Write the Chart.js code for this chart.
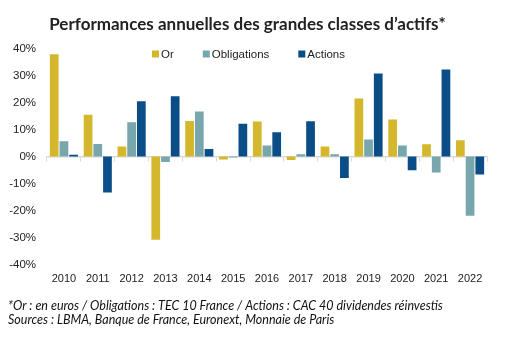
<!DOCTYPE html>
<html lang="fr">
<head>
    <meta charset="UTF-8">
    <title>Performances annuelles des grandes classes d'actifs</title>
    <script src="https://cdn.jsdelivr.net/npm/chart.js"></script>
    <style>
        html, body { margin: 0; padding: 0; background: #fff; }
        #wrap { width: 510px; height: 345px; }
    </style>
</head>
<body>
    <div id="wrap">
        <canvas id="perfChart"></canvas>
    </div>
    <script>
        // Données (en %)
        const years = ['2010', '2011', '2012', '2013', '2014', '2015', '2016',
                       '2017', '2018', '2019', '2020', '2021', '2022'];
        const orValues = [37.8, 15.5, 3.7, -30.7, 13.2, -1.1, 13.0, -1.3, 3.7, 21.5, 13.7, 4.6, 6.0];
        const obligationsValues = [5.7, 4.7, 12.7, -2.0, 16.7, -0.3, 4.1, 0.9, 0.9, 6.3, 4.1, -5.9, -21.9];
        const actionsValues = [0.7, -13.3, 20.5, 22.3, 2.8, 12.1, 9.0, 13.1, -7.9, 30.7, -5.0, 32.2, -6.6];
        const yTicks = [40, 30, 20, 10, 0, -10, -20, -30, -40];

        const footnote = [
            '*Or : en euros / Obligations : TEC 10 France / Actions : CAC 40 dividendes réinvestis',
            'Sources : LBMA, Banque de France, Euronext, Monnaie de Paris'
        ];

        // légende maison : en ligne, posée dans la zone du graphique
        const inlineLegend = {
            id: 'inlineLegend',
            afterDraw(chart) {
                const c = chart.ctx;
                let x = 152;
                const y = 54;
                c.save();
                c.font = '11.5px "Liberation Sans"';
                c.textBaseline = 'middle';
                chart.data.datasets.forEach(ds => {
                    c.fillStyle = ds.backgroundColor;
                    c.fillRect(x, y - 3.5, 7, 7);
                    c.fillStyle = '#222';
                    c.fillText(ds.label, x + 9, y + 0.5);
                    x += 9 + c.measureText(ds.label).width + 29;
                });
                c.restore();
            }
        };

        const ctx = document.getElementById('perfChart').getContext('2d');
        new Chart(ctx, {
            type: 'bar',
            data: {
                labels: years,
                datasets: [
                    { label: 'Or', data: orValues, backgroundColor: '#D4B72C' },
                    { label: 'Obligations', data: obligationsValues, backgroundColor: '#78A6AD' },
                    { label: 'Actions', data: actionsValues, backgroundColor: '#0B4D87' }
                ]
            },
            options: {
                responsive: true,
                maintainAspectRatio: false,
                animation: false,
                categoryPercentage: 0.86,
                barPercentage: 0.9,
                layout: { padding: { left: 8, right: 23, top: 0, bottom: 18 } },
                plugins: {
                    title: {
                        display: true,
                        text: 'Performances annuelles des grandes classes d\u2019actifs*',
                        color: '#222',
                        font: { family: 'Lato', size: 17, weight: 'bold' },
                        padding: { top: 14, bottom: 14 }
                    },
                    subtitle: {
                        display: true,
                        position: 'bottom',
                        align: 'start',
                        text: footnote,
                        color: '#111',
                        font: { family: 'Lato', size: 12.5, style: 'italic', lineHeight: '14px' },
                        padding: { top: 5, bottom: 0 }
                    },
                    legend: { display: false },
                    tooltip: { enabled: false }
                },
                scales: {
                    x: {
                        grid: { display: false, drawTicks: false },
                        border: { display: false },
                        ticks: {
                            color: '#222',
                            padding: 8,
                            font: { family: 'Liberation Sans', size: 11 }
                        }
                    },
                    zeroAxis: {
                        type: 'category',
                        axis: 'x',
                        labels: years,
                        position: { y: 0 },
                        offset: true,
                        grid: {
                            offset: true,
                            drawOnChartArea: false,
                            tickLength: 4,
                            color: '#D9D9D9'
                        },
                        border: { display: true, color: '#D9D9D9', width: 1.5 },
                        ticks: { display: false }
                    },
                    y: {
                        min: -40,
                        max: 40,
                        afterBuildTicks(axis) {
                            axis.ticks = yTicks.map(v => ({ value: v }));
                        },
                        afterFit(axis) {
                            axis.width = 39;
                        },
                        grid: { display: false, drawTicks: false },
                        border: { display: false },
                        ticks: {
                            color: '#222',
                            padding: 11,
                            font: { family: 'Liberation Sans', size: 11.5 },
                            callback: v => v + '%'
                        }
                    }
                }
            },
            plugins: [inlineLegend]
        });
    </script>
</body>
</html>
